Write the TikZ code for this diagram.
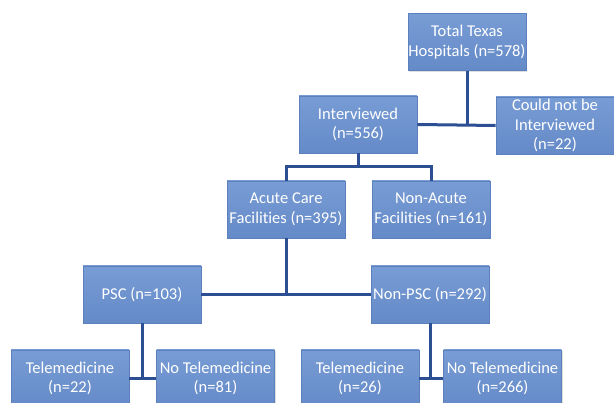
\documentclass[tikz,border=0pt]{standalone}
\usepackage{fontspec}
\setmainfont{Carlito}[Ligatures={NoCommon}]
\usetikzlibrary{shadows}
\definecolor{boxtop}{RGB}{120,156,212}
\definecolor{boxbot}{RGB}{100,138,200}
\definecolor{boxedge}{RGB}{92,128,190}
\definecolor{linkc}{RGB}{44,78,146}
\begin{document}
\begin{tikzpicture}[x=1pt,y=-1pt,
  hbox/.style={draw=boxedge, line width=0.6pt, top color=boxtop, bottom color=boxbot,
    minimum width=118pt, minimum height=57pt, inner sep=0pt,
    align=center, text=white, font=\fontsize{16.5}{19.5}\selectfont,
    drop shadow={opacity=0.25, shadow xshift=1pt, shadow yshift=-1.5pt}},
  link/.style={draw=linkc, line width=3pt}]
\useasboundingbox (0,0) rectangle (614,403);
\clip (0,0) rectangle (614,403);
\node[hbox] (total) at (467,42) {Total Texas\\Hospitals (n=578)};
\node[hbox] (could) at (555,125.5) {Could not be\\Interviewed\\(n=22)};
\node[hbox] (interviewed) at (358,124.5) {Interviewed\\(n=556)};
\node[hbox] (acute) at (286,209.5) {Acute Care\\Facilities (n=395)};
\node[hbox] (nonacute) at (431,209.5) {Non-Acute\\Facilities (n=161)};
\node[hbox] (psc) at (142,294.5) {PSC (n=103)};
\node[hbox] (nonpsc) at (430,294.5) {Non-PSC (n=292)};
\node[hbox] (tele1) at (70,378.5) {Telemedicine\\(n=22)};
\node[hbox] (notele1) at (215.5,378.5) {No Telemedicine\\(n=81)};
\node[hbox] (tele2) at (360,378.5) {Telemedicine\\(n=26)};
\node[hbox] (notele2) at (502.5,378.5) {No Telemedicine\\(n=266)};
\coordinate (j1) at (358,167);
\draw[link] (total.south) -- (total.south |- interviewed.east);
\draw[link] (interviewed.east) -- (could.west);
\draw[link] (interviewed.south) -- (j1);
\draw[link] (acute.north) -- (acute.north |- j1) -- (nonacute.north |- j1) -- (nonacute.north);
\draw[link] (acute.south) -- (acute.south |- psc.east);
\draw[link] (psc.east) -- (nonpsc.west);
\draw[link] (psc.south) -- (psc.south |- tele1.east);
\draw[link] (tele1.east) -- (notele1.west);
\draw[link] (nonpsc.south) -- (nonpsc.south |- tele2.east);
\draw[link] (tele2.east) -- (notele2.west);
\end{tikzpicture}
\end{document}
